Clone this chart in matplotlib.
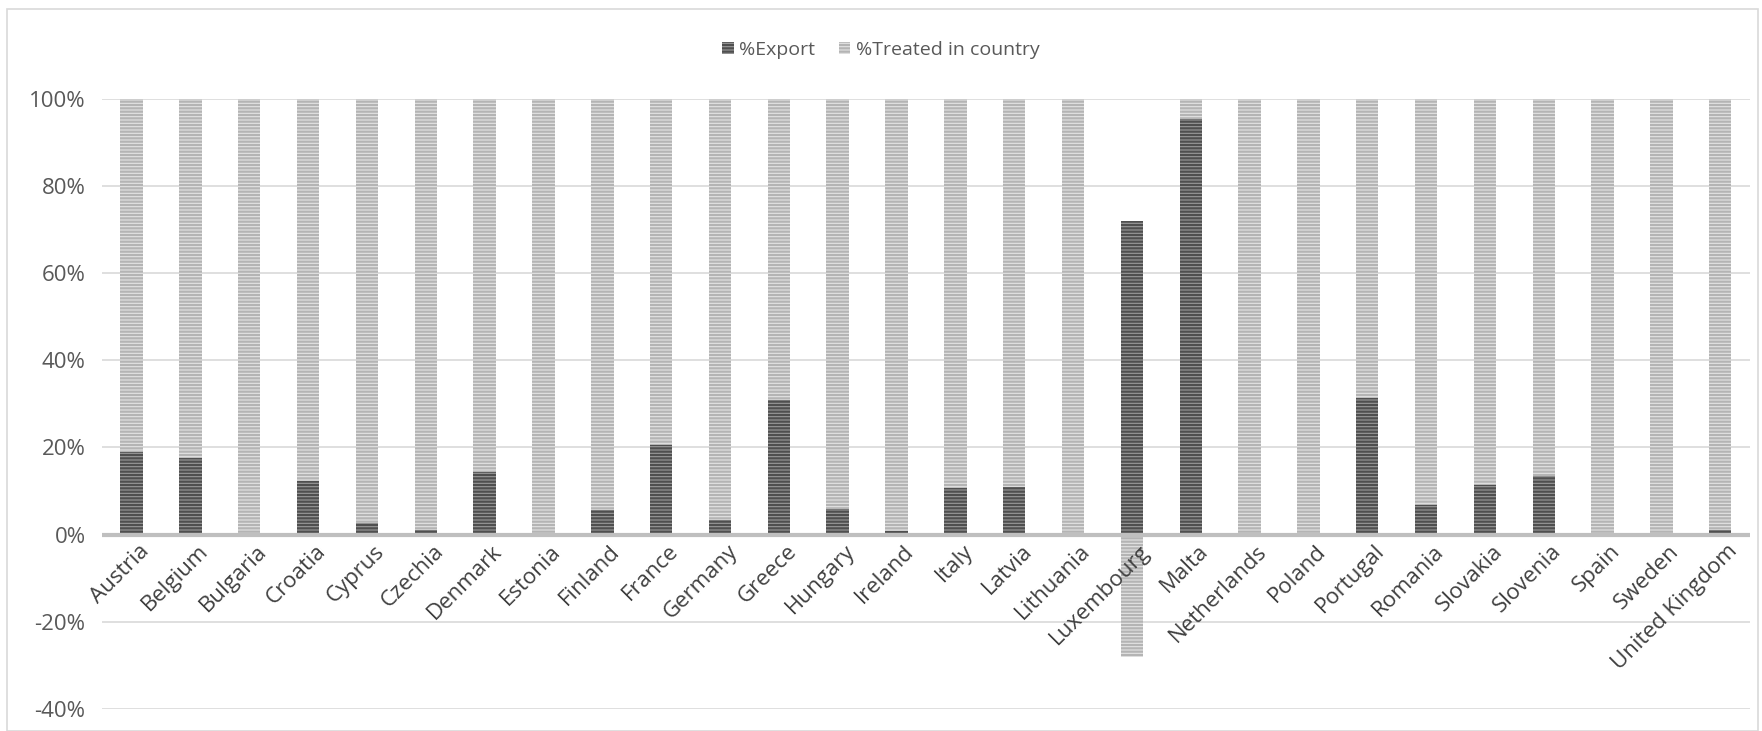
"""Stacked share of waste exported vs treated in country, by EU country."""

import numpy as np
import matplotlib
matplotlib.use("Agg")
import matplotlib.pyplot as plt
from matplotlib.patches import Rectangle
from matplotlib.ticker import FuncFormatter

plt.rcParams.update({
    "font.family": ["Open Sans", "DejaVu Sans"],
    "font.size": 16,
    "hatch.linewidth": 1.6,
})

countries = ["Austria", "Belgium", "Bulgaria", "Croatia", "Cyprus", "Czechia",
             "Denmark", "Estonia", "Finland", "France", "Germany", "Greece",
             "Hungary", "Ireland", "Italy", "Latvia", "Lithuania", "Luxembourg",
             "Malta", "Netherlands", "Poland", "Portugal", "Romania", "Slovakia",
             "Slovenia", "Spain", "Sweden", "United Kingdom"]
export_pct = [19.0, 17.5, 0.2, 12.4, 2.6, 1.0, 14.4, 0.1, 5.7, 20.6, 3.4, 31.0,
              6.0, 0.8, 10.8, 11.0, 0.1, 72.0, 95.4, 0.1, 0.1, 31.4, 6.7, 11.3,
              13.4, 0.1, 0.1, 1.0]
treated_pct = [81.0, 82.5, 99.8, 87.6, 97.4, 99.0, 85.6, 99.9, 94.3, 79.4, 96.6, 69.0,
               94.0, 99.2, 89.2, 89.0, 99.9, -28.0, 4.6, 99.9, 99.9, 68.6, 93.3, 88.7,
               86.6, 99.9, 99.9, 99.0]
yticks = [-40, -20, 0, 20, 40, 60, 80, 100]

fig = plt.figure(figsize=(17.62, 7.31), dpi=100)
ax = fig.add_axes([0.058, 0.030, 0.935, 0.835])

x = np.arange(len(countries))
exp = np.array(export_pct) / 100
trt = np.array(treated_pct) / 100
bottom = np.where(trt >= 0, exp, 0)

b1 = ax.bar(x, exp, width=0.38, color="#9a9a9a", edgecolor="#4f4f4f",
            hatch="-----", linewidth=0, zorder=3, label="%Export")
b2 = ax.bar(x, trt, bottom=bottom, width=0.38, color="#e4e4e4", edgecolor="#b4b4b4",
            hatch="-----", linewidth=0, zorder=3, label="%Treated in country")

ax.set_ylim(-0.40, 1.00)
ax.set_xlim(-0.5, len(countries) - 0.5)
ax.set_yticks(np.array(yticks) / 100)
ax.yaxis.set_major_formatter(FuncFormatter(lambda v, _: f"{v * 100:.0f}%"))
ax.tick_params(axis="y", length=0, pad=12, labelcolor="#595959", labelsize=16)
ax.set_xticks([])
for s in ax.spines.values():
    s.set_visible(False)
ax.grid(axis="y", color="#d9d9d9", linewidth=1.2, zorder=0)
ax.axhline(0, color="#bfbfbf", linewidth=3, zorder=4)

# category labels sit just under the zero line, like Excel does it
for xi, name in zip(x, countries):
    ax.text(xi + 0.12, -0.014, name, rotation=45, ha="right", va="top",
            rotation_mode="anchor", fontsize=16, color="#404040", zorder=5)

fig.legend(handles=[b1, b2], loc="upper center", bbox_to_anchor=(0.5, 0.968),
           ncol=2, frameon=False, fontsize=14, handlelength=0.6, handleheight=0.6,
           columnspacing=1.2, handletextpad=0.3, labelcolor="#595959")

fig.patches.append(Rectangle((0.004, 0.0), 0.994, 0.988, transform=fig.transFigure,
                             fill=False, edgecolor="#d9d9d9", linewidth=1.2))

fig.savefig("out.png", dpi=100)
